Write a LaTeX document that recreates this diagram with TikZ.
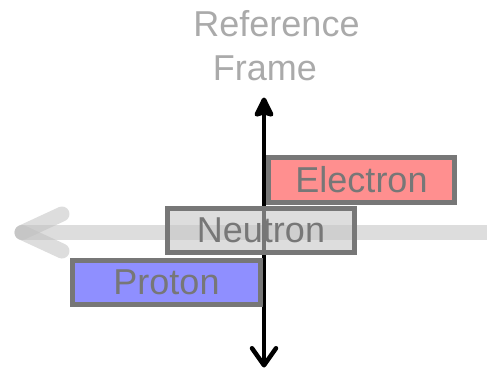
\documentclass[tikz,border=0pt]{standalone}
\usepackage{fontspec}
\setmainfont{Liberation Sans}
\usetikzlibrary{arrows.meta}
\definecolor{bordergray}{HTML}{777777}
\definecolor{labelgray}{HTML}{AAAAAA}
\definecolor{electronfill}{HTML}{FF8F8F}
\definecolor{protonfill}{HTML}{8F8FFF}
\definecolor{neutronfill}{HTML}{C6C6C6}
\definecolor{flowgray}{HTML}{BFBFBF}
\tikzset{
  particle/.style={draw=bordergray, line width=5pt, inner sep=0pt, text=bordergray,
    font=\fontsize{36}{43}\selectfont},
  flow/.style={draw=flowgray, draw opacity=0.53, line width=15pt, line cap=round},
  framelabel/.style={text=labelgray, font=\fontsize{36}{43}\selectfont, anchor=base, inner sep=0pt}
}
\begin{document}
\begin{tikzpicture}[x=1pt,y=-1pt]
\useasboundingbox (0,0) rectangle (487,370);
% horizontal translucent arrow
\coordinate (hstart) at (495,232.5);
\coordinate (htip) at (22,232.5);
\coordinate (harmup) at (62,214);
\coordinate (harmdown) at (62,251);
\draw[flow] (hstart) -- (htip);
\draw[flow] (htip) -- (harmup);
\draw[flow] (htip) -- (harmdown);
% vertical axis
\coordinate (vtop) at (264,97.5);
\coordinate (vbottom) at (264,367.5);
\draw[line width=4.5pt, line cap=round,
  {Stealth[round, length=23pt, width=22pt, inset=3pt]}-{Straight Barb[round, length=17pt, width=24pt]}]
  (vtop) -- (vbottom);
% particles
\node[particle, fill=protonfill, minimum width=188pt, minimum height=44pt] (proton) at (166.5,282.5) {Proton};
\node[particle, fill=electronfill, minimum width=186pt, minimum height=45pt] (electron) at (361.5,180) {Electron};
\node[particle, fill=neutronfill, fill opacity=0.6, text opacity=1, minimum width=187pt, minimum height=44pt] (neutron) at (261,230.5) {Neutron};
% label
\node[framelabel] (ref) at (276.5,36) {Reference};
\node[framelabel] (frame) at (265,80) {Frame};
\end{tikzpicture}
\end{document}
